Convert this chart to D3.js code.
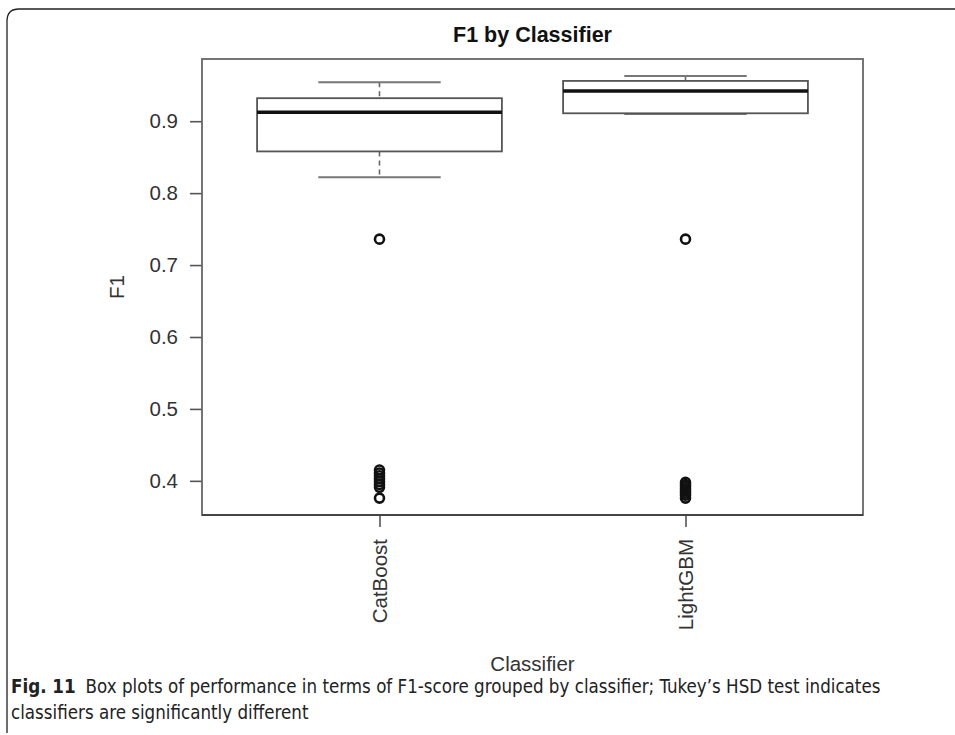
<!DOCTYPE html>
<html>
<head>
<meta charset="utf-8">
<script src="https://cdn.jsdelivr.net/npm/d3@7"></script>
<style>
body { margin: 0; background: #fff; }
svg { display: block; }
</style>
</head>
<body>
<div id="chart"></div>
<script>

var classifiers = ["CatBoost", "LightGBM"];

// five number summary per classifier: lower whisker, Q1, median, Q3, upper whisker
var lowerWhisker = [0.822, 0.910],
q1 = [0.858, 0.911],
median = [0.9125, 0.942],
q3 = [0.932, 0.956],
upperWhisker = [0.954, 0.963];

var outliersCat = [0.736, 0.415, 0.411, 0.407, 0.403, 0.399, 0.395, 0.391, 0.376];
var outliersLgb = [0.736, 0.398, 0.395, 0.392, 0.389, 0.386, 0.383, 0.380, 0.376];

var yTicks = [0.4, 0.5, 0.6, 0.7, 0.8, 0.9];

var width = 955,
height = 735;

var plot = {left: 202, right: 863, top: 59, bottom: 515};

var svg = d3.select("#chart").append("svg")
.attr("width", width)
.attr("height", height);

// outer figure frame, rounded corners, runs off the right/bottom
svg.append("path")
.attr("d", "M7,733 L7,21 Q7,9 19,9 L955,9")
.attr("fill", "none")
.attr("stroke", "#222")
.attr("stroke-width", 1.3);

var data = classifiers.map(function(c, i) {
	return {name: c, lo: lowerWhisker[i], q1: q1[i], med: median[i], q3: q3[i], hi: upperWhisker[i],
		out: i === 0 ? outliersCat : outliersLgb};
});

// R style limits: data range extended 4% on each side
var allVals = d3.merge(data.map(function(d) { return d.out.concat([d.lo, d.hi]); }));
var ext = d3.extent(allVals),
pad = (ext[1] - ext[0]) * 0.04;

var y = d3.scaleLinear()
.domain([ext[0] - pad, ext[1] + pad])
.range([plot.bottom, plot.top]);

var x = d3.scaleLinear()
.domain([0.5 - 0.08, 2.5 + 0.08])
.range([plot.left, plot.right]);

var boxHalf = (x(1.4) - x(1)),
stapleHalf = boxHalf / 2;

var fontAxis = "Liberation Sans, Arial, Helvetica, sans-serif";

// title
svg.append("text")
.attr("x", (plot.left + plot.right) / 2)
.attr("y", 42)
.attr("text-anchor", "middle")
.style("font-family", fontAxis)
.style("font-weight", "bold")
.style("font-size", "21.5px")
.attr("fill", "#111")
.text("F1 by Classifier");

// y axis
var yAxis = d3.axisLeft(y)
.tickValues(yTicks)
.tickSize(12)
.tickPadding(12)
.tickFormat(d3.format(".1f"));

var gy = svg.append("g")
.attr("transform", "translate(" + plot.left + ",0)")
.call(yAxis);

gy.select(".domain").remove();
gy.selectAll(".tick line").attr("stroke", "#555").attr("stroke-width", 1.6);
gy.selectAll(".tick text")
.style("font-family", fontAxis)
.style("font-size", "20.5px")
.attr("fill", "#333");

// x axis, labels perpendicular (las = 2)
var xAxis = d3.axisBottom(x)
.tickValues([1, 2])
.tickSize(12)
.tickFormat(function(d) { return classifiers[d - 1]; });

var gx = svg.append("g")
.attr("transform", "translate(0," + plot.bottom + ")")
.call(xAxis);

gx.select(".domain").remove();
gx.selectAll(".tick line").attr("stroke", "#555").attr("stroke-width", 1.6);
gx.selectAll(".tick text")
.style("font-family", fontAxis)
.style("font-size", "20.5px")
.attr("fill", "#333")
.attr("text-anchor", "end")
.attr("dy", "0.35em")
.attr("transform", "translate(0,12) rotate(-90)")
.attr("x", -12)
.attr("y", 0);

// plot frame
svg.append("rect")
.attr("x", plot.left)
.attr("y", plot.top)
.attr("width", plot.right - plot.left)
.attr("height", plot.bottom - plot.top)
.attr("fill", "none")
.attr("stroke", "#666")
.attr("stroke-width", 1.8);

svg.append("line")
.attr("x1", plot.left).attr("x2", plot.right)
.attr("y1", plot.bottom).attr("y2", plot.bottom)
.attr("stroke", "#444").attr("stroke-width", 2);

// boxes
var box = svg.selectAll("g.box")
.data(data)
.enter().append("g")
.attr("class", "box")
.attr("transform", function(d, i) { return "translate(" + x(i + 1) + ",0)"; });

// dashed whiskers
box.append("line")
.attr("y1", function(d) { return y(d.hi); })
.attr("y2", function(d) { return y(d.q3); })
.attr("stroke", "#666").attr("stroke-width", 1.6)
.attr("stroke-dasharray", "5,4");

box.append("line")
.attr("y1", function(d) { return y(d.q1); })
.attr("y2", function(d) { return y(d.lo); })
.attr("stroke", "#666").attr("stroke-width", 1.6)
.attr("stroke-dasharray", "5,4");

// staples
box.selectAll("line.staple")
.data(function(d) { return [d.lo, d.hi]; })
.enter().append("line")
.attr("class", "staple")
.attr("x1", -stapleHalf).attr("x2", stapleHalf)
.attr("y1", function(v) { return y(v); })
.attr("y2", function(v) { return y(v); })
.attr("stroke", "#777").attr("stroke-width", 2);

box.append("rect")
.attr("x", -boxHalf)
.attr("width", boxHalf * 2)
.attr("y", function(d) { return y(d.q3); })
.attr("height", function(d) { return y(d.q1) - y(d.q3); })
.attr("fill", "#fff")
.attr("stroke", "#555")
.attr("stroke-width", 1.8);

box.append("line")
.attr("x1", -boxHalf).attr("x2", boxHalf)
.attr("y1", function(d) { return y(d.med); })
.attr("y2", function(d) { return y(d.med); })
.attr("stroke", "#111").attr("stroke-width", 3.6);

// outliers
box.selectAll("circle")
.data(function(d) { return d.out; })
.enter().append("circle")
.attr("cx", 0)
.attr("cy", function(v) { return y(v); })
.attr("r", 4.5)
.attr("fill", "none")
.attr("stroke", "#111")
.attr("stroke-width", 2.6);

// axis titles
svg.append("text")
.attr("x", (plot.left + plot.right) / 2)
.attr("y", 671)
.attr("text-anchor", "middle")
.style("font-family", fontAxis)
.style("font-size", "20.5px")
.attr("fill", "#333")
.text("Classifier");

svg.append("text")
.attr("transform", "translate(124," + ((plot.top + plot.bottom) / 2) + ") rotate(-90)")
.attr("text-anchor", "middle")
.style("font-family", fontAxis)
.style("font-size", "20.5px")
.attr("fill", "#333")
.text("F1");

// caption
var capFont = "'Liberation Sans Narrow', 'DejaVu Sans Condensed', 'Roboto', sans-serif";

var cap1 = svg.append("text")
.attr("x", 11)
.attr("y", 693)
.style("font-family", capFont)
.style("font-size", "18.6px")
.attr("fill", "#222");

cap1.append("tspan").style("font-weight", "bold").text("Fig. 11");
cap1.append("tspan").attr("dx", 10).text("Box plots of performance in terms of F1-score grouped by classifier; Tukey\u2019s HSD test indicates");

svg.append("text")
.attr("x", 11)
.attr("y", 719)
.style("font-family", capFont)
.style("font-size", "18.6px")
.attr("fill", "#222")
.text("classifiers are significantly different");

</script>
</body>
</html>
